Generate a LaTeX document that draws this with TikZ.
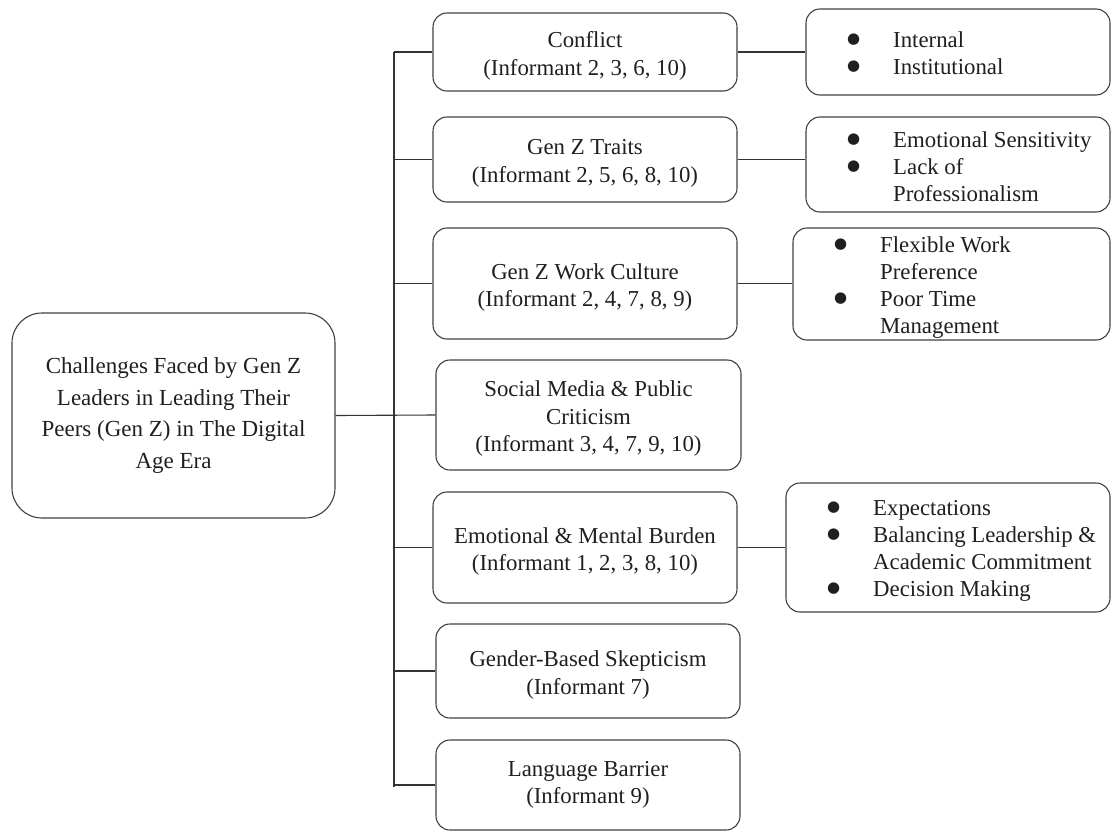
\documentclass[tikz,border=0pt]{standalone}
\usepackage{fontspec}
\setmainfont{Liberation Serif}
\newfontfamily\symfont{DejaVu Sans}
\newcommand\bulletglyph{\raisebox{3.5pt}{\symfont\fontsize{15}{15}\selectfont ●}}
\newcommand\bitem[1]{\makebox[46pt][l]{\bulletglyph}#1}
\newcommand\bcont[1]{\makebox[46pt][l]{}#1}
\begin{document}
\begin{tikzpicture}[x=1pt,y=-1pt,
  frame/.style={draw=black!75, line width=1.1pt, rounded corners=14pt, inner sep=0pt},
  mid/.style={frame, minimum width=304pt},
  txt/.style={align=center, inner sep=0pt, text=black!88, yshift=-4pt,
    font=\fontsize{22.8}{27.5}\selectfont},
  wire/.style={draw=black!80, line width=1.1pt},
  list/.style={anchor=base west, inner sep=0pt, text=black!88,
    font=\fontsize{22.8}{27}\selectfont}]
\useasboundingbox (0,0) rectangle (1112,833);

% root
\node[frame, rounded corners=30pt, minimum width=323pt, minimum height=205pt,
  align=center, text=black!88, font=\fontsize{23}{31.7}\selectfont] (root) at (173.5,415.5)
  {Challenges Faced by Gen Z\\Leaders in Leading Their\\Peers (Gen Z) in The Digital\\Age Era};

% challenge categories
\node[mid, minimum height=78pt]  (c1) at (585,52)    {};
\node[mid, minimum height=85pt]  (c2) at (585,159.5) {};
\node[mid, minimum height=111pt] (c3) at (585,283.5) {};
\node[mid, minimum width=305pt, minimum height=110pt] (c4) at (588.5,415) {};
\node[mid, minimum height=111pt] (c5) at (585,547.5) {};
\node[mid, minimum height=94pt]  (c6) at (588,671)   {};
\node[mid, minimum height=90pt]  (c7) at (588,785)   {};

\node[txt] (t1) at (c1) {Conflict\\(Informant 2, 3, 6, 10)};
\node[txt] (t2) at (c2) {Gen Z Traits\\(Informant 2, 5, 6, 8, 10)};
\node[txt] (t3) at (c3) {Gen Z Work Culture\\(Informant 2, 4, 7, 8, 9)};
\node[txt] (t4) at (c4) {Social Media \& Public\\Criticism\\(Informant 3, 4, 7, 9, 10)};
\node[txt] (t5) at (c5) {Emotional \& Mental Burden\\(Informant 1, 2, 3, 8, 10)};
\node[txt] (t6) at (c6) {Gender-Based Skepticism\\(Informant 7)};
\node[txt, yshift=4pt] (t7) at (c7) {Language Barrier\\(Informant 9)};

% sub-theme boxes
\node[frame, minimum width=304pt, minimum height=86pt]  (d1) at (958,52) {};
\node[frame, minimum width=304pt, minimum height=95pt]  (d2) at (958,164.5) {};
\node[frame, minimum width=317pt, minimum height=112pt] (d3) at (951.5,284) {};
\node[frame, minimum width=324pt, minimum height=129pt] (d5) at (948,547.5) {};

\node[list] (l1) at (847,47) {\begin{tabular}[t]{@{}l@{}}
  \bitem{Internal}\\\bitem{Institutional}\end{tabular}};
\node[list] (l2) at (847,147) {\begin{tabular}[t]{@{}l@{}}
  \bitem{Emotional Sensitivity}\\\bitem{Lack of}\\\bcont{Professionalism}\end{tabular}};
\node[list] (l3) at (834,252) {\begin{tabular}[t]{@{}l@{}}
  \bitem{Flexible Work}\\\bcont{Preference}\\\bitem{Poor Time}\\\bcont{Management}\end{tabular}};
\node[list] (l5) at (827,515) {\begin{tabular}[t]{@{}l@{}}
  \bitem{Expectations}\\\bitem{Balancing Leadership \&}\\\bcont{Academic Commitment}\\\bitem{Decision Making}\end{tabular}};

% trunk and branches
\coordinate (ttop) at (394,52);
\coordinate (tbot) at (394,787);
\draw[wire] (ttop) -- (tbot);
\draw[wire] (root.east) -- (c4.west);
\foreach \n in {c1,c2,c3,c5,c6,c7}
  \draw[wire] (ttop |- \n.west) -- (\n.west);
\draw[wire] (c1.east) -- (d1.west);
\draw[wire] (c2.east) -- (c2.east -| d2.west);
\draw[wire] (c3.east) -- (c3.east -| d3.west);
\draw[wire] (c5.east) -- (d5.west);
\end{tikzpicture}
\end{document}
